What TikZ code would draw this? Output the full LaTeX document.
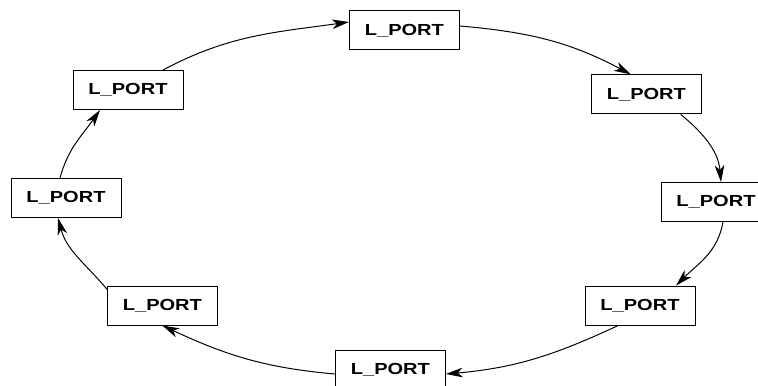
\documentclass[tikz,border=0pt]{standalone}
\usepackage{fontspec}
\setsansfont{Liberation Sans}
\usepackage{tikz}
\usetikzlibrary{arrows.meta}
\tikzset{
    port/.style={
		draw, line width=0.7pt, inner sep=0pt,
		minimum width=2.75cm, minimum height=0.975cm,
		font=\sffamily\bfseries\fontsize{11.4}{13}\selectfont
	}
}
\tikzset{
    link/.style={
		line width=0.7pt, -{Stealth[length=4.2mm, width=2.4mm, inset=1.2mm]}
	}
}
\newcommand{\portname}{\scalebox{1.25}[1]{L\_PORT}}

\begin{document}
\begin{tikzpicture}
			\useasboundingbox (0,0) rectangle (18.95,9.65);
			% ports around the ring
			\node[port] (t) at (10.11,8.89) {\portname};
			\node[port] (tr) at (16.16,7.29) {\portname};
			\node[port] (r) at (17.9,4.6) {\portname};
			\node[port] (br) at (16.0,2.01) {\portname};
			\node[port] (b) at (9.76,0.41) {\portname};
			\node[port] (bl) at (4.06,2.01) {\portname};
			\node[port] (l) at (1.65,4.7) {\portname};
			\node[port] (tl) at (3.2,7.4) {\portname};
			% links, clockwise
			\draw[link] ([xshift=0.875cm]tl.north) to[out=28,in=188] ([yshift=0.21cm]t.west);
			\draw[link] ([yshift=0.11cm]t.east) to[out=-5,in=152] ([xshift=-0.39cm]tr.north);
			\draw[link] ([xshift=0.86cm]tr.south) to[out=-40,in=95] ([xshift=0.125cm]r.north);
			\draw[link] ([xshift=0.175cm]r.south) to[out=-100,in=45] ([xshift=0.9cm]br.north);
			\draw[link] ([xshift=-0.55cm]br.south) to[out=-155,in=5] ([yshift=-0.11cm]b.east);
			\draw[link] ([yshift=-0.11cm]b.west) to[out=175,in=-25] (bl.south);
			\draw[link] ([yshift=0.41cm]bl.west) to[out=130,in=-75] ([xshift=-0.2cm]l.south);
			\draw[link] ([xshift=-0.15cm]l.north) to[out=75,in=-125] ([xshift=-0.7cm]tl.south);
% 			\draw[gray] (0,0) rectangle (18.95,9.65);
		\end{tikzpicture}
\end{document}
